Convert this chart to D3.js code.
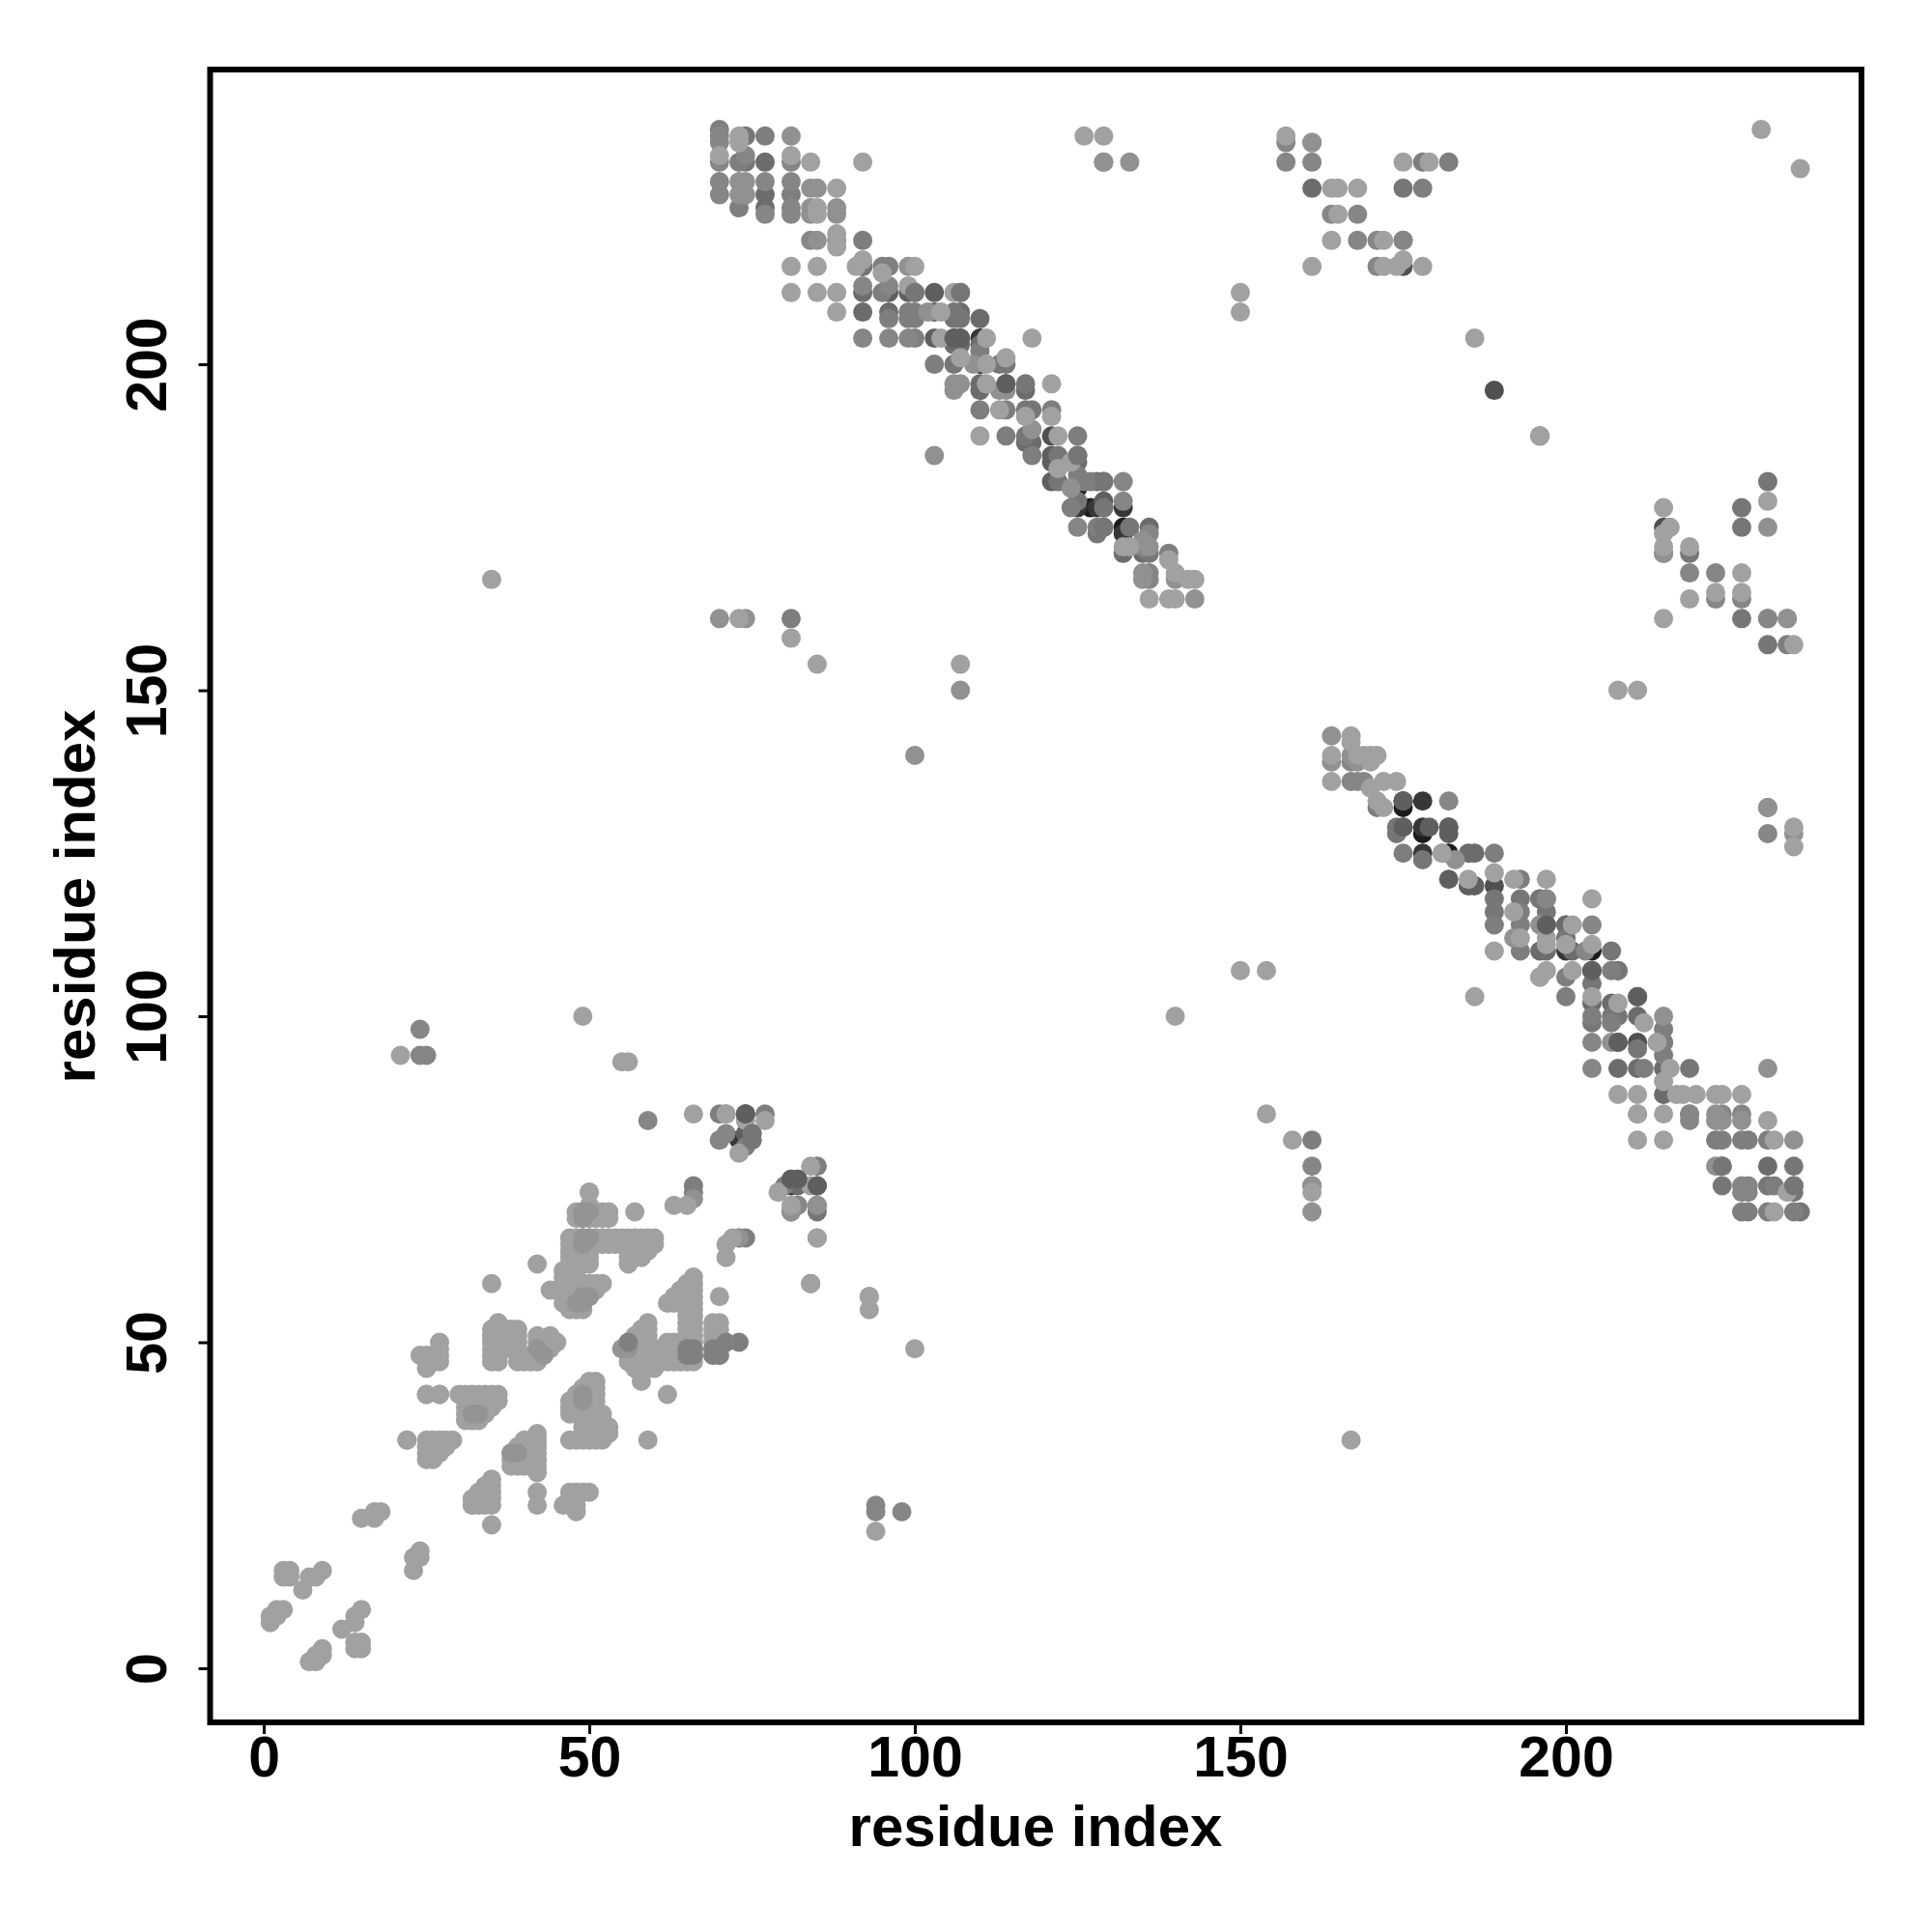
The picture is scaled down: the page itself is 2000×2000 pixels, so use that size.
<!DOCTYPE html>
<html><head><meta charset="utf-8"><script src="https://cdn.jsdelivr.net/npm/d3@7"></script>
<style>html,body{margin:0;background:#fff}svg{display:block}</style></head><body><svg id="c" width="2000" height="2000"></svg>
<script>
// each row: [residue y, residue x, residue x, ...]; arrays are named by grey level
const xTicks=[0,50,100,150,200], yTicks=[0,50,100,150,200];
const g25=[[181,125],[178,127],[175,132],[133,175],[132,175],[128,178],[125,182],[110,204]];
const g50=[[204,110],[200,110],[178,125,128,132],[174,132],[133,178],[129,178],[125,178],[110,200],[81,73],[74,81]];
const g70=[[189,121],[182,129],[178,129],[175,129],[196,189],[189,196],[175,215],[215,175],[120,189],[96,211],[129,175]];
const g85=[[215,92],[211,96,99,103],[208,103],[204,103,106,107],[197,114],[186,121],[185,121],[182,121],[179,129],[133,175],[129,179,182],[128,182],[121,182],[120,185,186],[114,197,200],[107,204],[103,211],[96,208],[85,74],[82,74],[74,85]];
const g100=[[231,77],[226,77],[224,77],[211,92,107],[208,92,96,107],[207,110],[203,106,107,110],[197,110],[196,110,117],[188,117,118],[186,125],[185,125],[182,128],[175,136],[171,132,135],[227,161],[125,185,186],[118,196],[114,200],[112,200],[110,196,197,201],[107,208],[102,204,207],[100,211],[96,215],[92,208,211,215],[88,215],[77,224,231],[74,235],[75,81,82],[74,82],[82,75],[81,75]];
const g112=[[235,74],[231,74],[227,175],[215,92],[211,100],[208,106],[207,106,107],[200,106,113,114],[197,117],[193,117,118],[189,117],[186,122],[182,122],[179,125],[174,128],[175,133],[171,136],[129,174],[128,174],[124,178],[118,189,193,196],[116,189,197],[112,200],[110,207],[107,208],[105,204],[100,208,207],[99,204],[95,211],[92,219],[85,219],[77,235],[74,224,231],[73,235],[70,236],[178,227],[175,227],[182,231],[171,219],[161,227],[157,231],[85,74],[71,85],[70,85]];
const g122=[[236,70],[235,77],[231,73,178,182],[226,81],[224,73],[219,92],[215,95,96],[211,95],[208,99,100],[207,96,99,100],[204,100],[202,110],[200,103],[193,110,114,121],[189,114,125],[186,118],[183,125],[182,126,127],[178,124],[175,128],[172,135],[171,139],[161,81],[227,178],[132,171],[125,175],[125,189],[121,193],[118,197],[116,193],[114,189,193],[110,193],[107,207],[106,200],[103,200],[100,204],[99,207],[98,215],[96,215],[94,215],[92,212],[81,161,223,224,227,228,231],[74,232],[70,227,228,231,235],[161,231],[157,234],[85,70,77],[81,70],[80,74],[77,85],[74,80,66],[73,66],[71,82],[70,81],[66,74,73],[50,73]];
const g132=[[235,70],[234,70,157],[232,74],[231,70,81,157,161,129],[228,70,77,81],[226,70],[224,81],[223,77,81],[219,84,175],[212,92,96],[204,92,96,99],[175,125],[174,136],[172,135],[168,136],[167,136],[179,132],[182,132],[133,182],[139,167],[136,167,168,169],[118,197],[114,204],[110,203],[96,204],[92,204],[85,219,224,227],[84,59,219],[77,161],[74,161],[74,227,228],[73,227,228],[132,231],[128,231],[234,161],[223,168],[219,168],[219,171],[219,175],[223,164],[215,171],[168,219,223],[164,223,227],[171,215],[161,231,234],[98,24],[94,24,25],[57,93],[25,94],[24,94,98],[59,84],[85,71],[82,71],[81,70],[71,82]];
const g143=[[235,81],[228,73,74],[227,84,85],[226,73,74],[224,84,88],[223,84,88],[219,85,88],[215,99],[208,102],[197,106,107],[196,106,113,114],[200,109],[186,103],[190,118],[181,124],[173,135],[172,136],[168,135],[167,135,140],[164,143],[161,70,74],[150,107],[140,100],[231,129,133],[143,164],[140,167],[139,164,168],[124,183],[125,181],[114,196],[112,192],[106,196],[100,215],[96,207],[85,211],[84,223,224,227],[81,235],[77,223],[74,161],[70,161],[132,231],[128,235],[92,231],[234,161],[175,231],[161,234],[171,215],[85,223],[73,50],[72,66],[71,85],[70,81],[66,85],[66,73]];
const g158=[[236,230],[235,73,126,129,157],[234,73],[232,70,81],[231,84,92,175,179],[230,236],[227,88,165,168,164],[224,85],[223,85,165],[220,88],[219,172,164],[218,88],[216,92,175],[215,81,85,91,100,161,172,174,178],[214,95],[212,99],[211,81,85,88,106,150],[208,88,104,150],[204,104,111,118,186],[201,107,114],[200,111],[197,111,121],[193,113],[192,117,121],[189,110,122,196],[185,124],[184,122],[175,216],[174,215],[172,132,133,215,219],[170,139],[168,140,227],[167,35,142,143],[165,223,227],[164,136,139,140,219],[161,73,215],[158,81],[154,85,107],[178,215],[179,231],[150,208,211],[143,167],[142,167],[140,164,168,169,170,171],[139,170],[136,164,172,174],[135,170],[133,171],[132,172],[125,181],[122,189],[121,185,192,197],[118,204],[116,192],[114,201],[112,193,197],[111,197,200,204],[110,189],[107,150,154,197,201],[106,196],[103,186,204],[102,208],[100,140],[99,212],[96,214],[92,216],[90,215],[88,208,211,217,218,220,223,224,227],[85,154,211,215],[84,231],[81,158,211,215,232],[73,161,234],[70,232],[129,235],[126,235],[157,235],
[100,49],[94,21],[93,55,56],[85,66,71],[84,74,77],[79,73],[77,84],[74,84],[73,79],[71,81,63,65],[70,57],[66,72,85],[65,71],[63,71],[62,42],[59,35,52,84],[58,44],[57,70,93],[55,93],[49,100],[42,25,27,62],[35,22,59,167],[21,94],
[73,50],[71,50],[70,48,49,50,51,52,53],[69,48,49,50,51,52,53],
[66,47,48,49,50,51,52,53,54,55,56,57,58,59,60],[65,47,48,49,50,51,52,53,54,55,56,57,58,59,60],[64,47,48,49,50,56,57,58,59],[63,47,48,49,50,56,57,58],[62,47,48,49,50,56],[61,46,47,48],[60,46,47,48,66],
[59,46,47,48,49,50,51,65,66],[58,45,46,47,48,49,50,51,64,65,66],[57,46,47,48,49,50,63,64,65,66],[56,46,47,48,49,62,63,64,65,66],[55,47,48,49,65,66],
[54,65,66],[53,36,59,65,66,69,70],[52,35,36,37,38,39,58,59,65,66,69,70],[51,35,36,37,38,39,42,44,57,58,59,65,66,69,70],[50,35,36,37,38,39,42,43,44,45,56,57,58,59,62,63,64,65,66,69,70],[49,35,36,37,38,39,42,43,44,55,56,57,58,59,60,62,63,64,65,66,69,70],[48,24,25,26,27,35,36,39,40,41,42,43,56,57,58,59,60,61,62,63,64,65,66,69,70],[47,35,36,39,40,41,42,56,57,58,59,60,61,62,63,64,65,66],[46,57,58,60],[45,58],[44,50,51,58],
[50,27],[49,27],[47,25,26,27],[46,25],
[43,49,50,51],[42,25,27,30,31,32,33,34,35,36,48,49,50,51],[41,31,32,33,34,35,36,47,48,49,50,51],[40,31,32,33,34,35,47,48,49],[39,31,32,33,34,47,48,49,50,51,52],[38,31,32,33,49,50,51,52],[37,49,50,51,52,53],[36,42,49,50,51,52,53],[35,22,25,26,27,28,29,47,48,49,50,51,52,40,41,42],
[34,25,26,27,28,39,40,41,42],[33,25,26,27,38,39,40,41,42],[32,25,26,38,39,40,41,42],[31,38,39,40,41,42],[30,42],
[29,35],[28,34,35],[27,33,34,35,42,47,48,49,50],[26,32,33,34,35,47,48],[25,32,33,34,35,42,46,47,48],[24,48,17,18],[23,15,17],[22,35],
[18,24],[17,23,24],[15,23,3,4,9],[14,3,4,7,8],[12,6],[9,2,3,15],[8,1,2,14],[7,1,14],[6,12],[4,14,15],[3,9,14,15],[2,9,8],[1,7,8]];
// darker marks that lie over lighter neighbours
const overG85=[[204,106,107],[197,114],[133,175],[129,175,182],[114,197],[107,204],[96,208],[103,211],[85,74],[75,81,82],[74,85]];
const overG112=[[211,100,107],[186,125],[182,129],[178,129],[175,129],[77,224],[74,235],[82,75],[81,75]];
const overG125=[[49,65,66],[48,65,66],[50,56],[49,69,70],[48,69,70],[50,71]];
const overG146=[[70,49,50],[69,49],[66,49,50],[65,49],[57,49,50],[56,48,49],[49,42],[48,43],[49,55,56],[42,49],[41,49],[39,32,33],[33,38,39]];

const tones=[[g25,28],[g50,55],[g70,80],[g85,95],[g100,108],[g112,118],[g122,126],[g132,134],[g143,145],[g158,161],[overG146,148],[overG125,128],[overG112,118],[overG85,95]];

const W=2000,H=2000;
const x=d3.scaleLinear().domain([-8.24,245.4]).range([217.5,1927]);
const y=d3.scaleLinear().domain([-8.3,245.2]).range([1783,72]);
const svg=d3.select('#c');
svg.append('rect').attr('width',W).attr('height',H).attr('fill','#fff');
const pts=d3.merge(tones.map(([rows,g])=>d3.merge(rows.map(r=>r.slice(1).map(v=>({x:v,y:r[0],g}))))));
svg.append('g').selectAll('circle').data(pts).join('circle')
 .attr('cx',d=>x(d.x)).attr('cy',d=>y(d.y)).attr('r',10)
 .attr('fill',d=>d3.rgb(d.g,d.g,d.g));
svg.append('rect').attr('x',217.5).attr('y',72).attr('width',1709.5).attr('height',1711)
 .attr('fill','none').attr('stroke','#000').attr('stroke-width',6);
const font='"Liberation Sans",Helvetica,Arial,sans-serif';
const ax=svg.append('g').attr('transform','translate(0,1783)').call(d3.axisBottom(x).tickValues(xTicks).tickSize(12).tickPadding(14));
const ay=svg.append('g').attr('transform','translate(217.5,0)').call(d3.axisLeft(y).tickValues(yTicks).tickSize(12).tickPadding(14));
[ax,ay].forEach(a=>{a.select('.domain').remove();a.selectAll('line').attr('stroke','#000').attr('stroke-width',3);
 a.selectAll('text').attr('fill','#000').attr('font-family',font).attr('font-weight','bold').attr('font-size',59);});
ax.selectAll('text').each(function(){d3.select(this).attr('y',56).attr('dy',0)});
ay.selectAll('text').each(function(){const t=d3.select(this);
 t.attr('x',null).attr('dy',0).attr('text-anchor','middle').attr('y',0).attr('transform',`translate(-46,0) rotate(-90)`);});
svg.append('text').attr('x',1072).attr('y',1911).attr('text-anchor','middle').attr('font-family',font).attr('font-weight','bold').attr('font-size',60).text('residue index');
svg.append('text').attr('transform','translate(98,928) rotate(-90)').attr('text-anchor','middle').attr('font-family',font).attr('font-weight','bold').attr('font-size',60).text('residue index');
</script></body></html>
